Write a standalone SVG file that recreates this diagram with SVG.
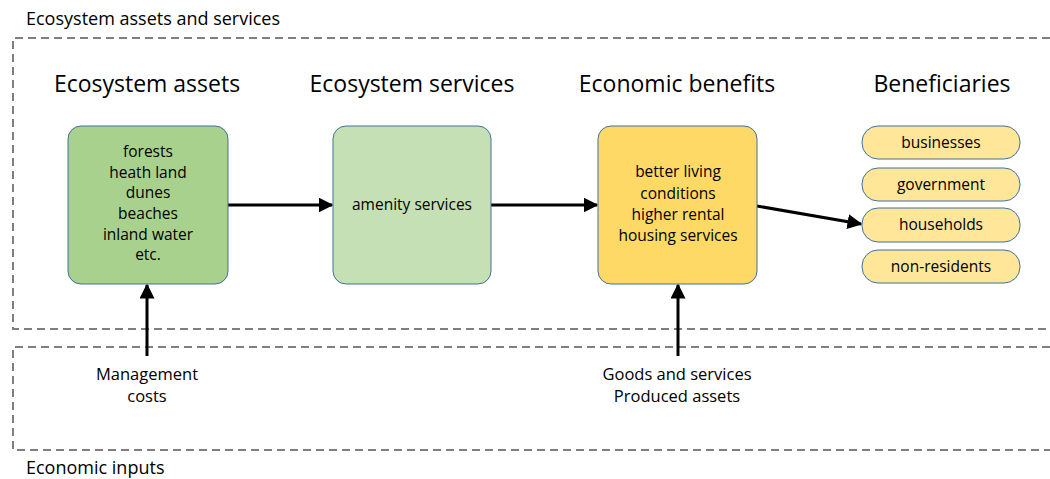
<svg xmlns="http://www.w3.org/2000/svg" width="1050" height="479" viewBox="0 0 1050 479">
<style>
text{font-family:"Open Sans","Liberation Sans",sans-serif;fill:#000}
.t{font-size:18px}
.h{font-size:23px;text-anchor:middle}
.n{font-size:15.5px;text-anchor:middle}
.l{font-size:16.5px;text-anchor:middle}
.frame{fill:none;stroke:#7f7f7f;stroke-width:2;stroke-dasharray:8 5}
.box{stroke:#41719c;stroke-width:1}
.c{stroke:#000;stroke-width:3;fill:none;marker-end:url(#ah)}
</style>
<defs>
<marker id="ah" viewBox="0 0 10 10" refX="9" refY="5" markerWidth="5" markerHeight="5" orient="auto" markerUnits="strokeWidth">
<path d="M0,0 L10,5 L0,10 z" fill="#000"/>
</marker>
</defs>
<rect x="0" y="0" width="1050" height="479" fill="#fff"/>
<g id="frames">
<path class="frame" d="M1050,38 H13 V329 H1050"/>
<path class="frame" d="M1050,347 H13 V450 H1050"/>
<text class="t" x="26" y="25">Ecosystem assets and services</text>
<text class="t" x="26" y="474">Economic inputs</text>
</g>
<g id="headers">
<text class="h" x="147" y="92">Ecosystem assets</text>
<text class="h" x="412" y="92">Ecosystem services</text>
<text class="h" x="677" y="92">Economic benefits</text>
<text class="h" x="942" y="92">Beneficiaries</text>
</g>
<g id="connectors">
<line class="c" x1="228" y1="205" x2="332" y2="205"/>
<line class="c" x1="491" y1="205" x2="597" y2="205"/>
<line class="c" x1="757" y1="206" x2="861" y2="224"/>
<line class="c" x1="147" y1="356" x2="147" y2="285"/>
<line class="c" x1="678" y1="356" x2="678" y2="285"/>
</g>
<g id="assets">
<rect class="box" x="68" y="126" width="160" height="158" rx="13" fill="#a9d18e"/>
<text class="n" x="148" y="157">forests</text>
<text class="n" x="148" y="178">heath land</text>
<text class="n" x="148" y="198">dunes</text>
<text class="n" x="148" y="219">beaches</text>
<text class="n" x="148" y="240">inland water</text>
<text class="n" x="148" y="260">etc.</text>
</g>
<g id="services">
<rect class="box" x="333" y="126" width="158" height="158" rx="13" fill="#c5e0b4"/>
<text class="n" x="412" y="210">amenity services</text>
</g>
<g id="benefits">
<rect class="box" x="598" y="126" width="159" height="158" rx="13" fill="#ffd966"/>
<text class="n" x="678" y="177">better living</text>
<text class="n" x="678" y="199">conditions</text>
<text class="n" x="678" y="220">higher rental</text>
<text class="n" x="678" y="241">housing services</text>
</g>
<g id="businesses">
<rect class="box" x="862" y="126" width="158" height="33" rx="16" fill="#ffe699"/>
<text class="n" x="941" y="148">businesses</text>
</g>
<g id="government">
<rect class="box" x="862" y="168" width="158" height="33" rx="16" fill="#ffe699"/>
<text class="n" x="941" y="190">government</text>
</g>
<g id="households">
<rect class="box" x="862" y="208" width="158" height="34" rx="16" fill="#ffe699"/>
<text class="n" x="941" y="230">households</text>
</g>
<g id="nonresidents">
<rect class="box" x="862" y="250" width="158" height="33" rx="16" fill="#ffe699"/>
<text class="n" x="941" y="272">non-residents</text>
</g>
<g id="inputs">
<text class="l" x="147" y="380">Management</text>
<text class="l" x="147" y="402">costs</text>
<text class="l" x="677" y="380">Goods and services</text>
<text class="l" x="677" y="402">Produced assets</text>
</g>
</svg>
